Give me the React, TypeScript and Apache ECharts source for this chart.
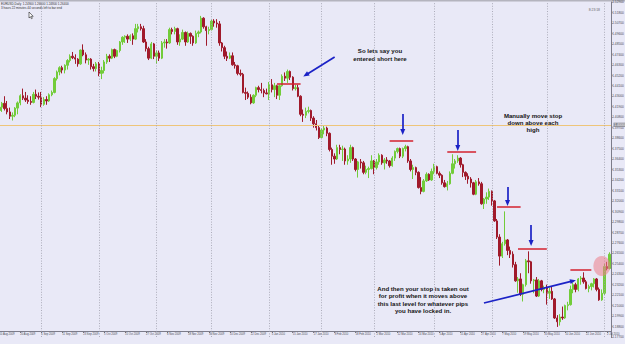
import React, { useEffect, useRef } from 'react';
import * as echarts from 'echarts';

// [day, open, high, low, close]
type Bar = [number, number, number, number, number];

const AUG_2009: Bar[] = [
  [10, 1.4150, 1.4215, 1.4120, 1.4185], [11, 1.4185, 1.4240, 1.4135, 1.4225], [12, 1.4225, 1.4300, 1.4150, 1.4170],
  [13, 1.4170, 1.4250, 1.4110, 1.4135], [14, 1.4135, 1.4180, 1.4060, 1.4090], [17, 1.4090, 1.4130, 1.4045, 1.4100],
  [18, 1.4100, 1.4185, 1.4080, 1.4175], [19, 1.4175, 1.4245, 1.4110, 1.4230], [20, 1.4230, 1.4320, 1.4205, 1.4305],
  [21, 1.4305, 1.4380, 1.4260, 1.4280], [24, 1.4280, 1.4345, 1.4240, 1.4260], [25, 1.4260, 1.4310, 1.4220, 1.4245],
  [26, 1.4245, 1.4300, 1.4210, 1.4235], [27, 1.4235, 1.4345, 1.4225, 1.4320], [28, 1.4320, 1.4370, 1.4270, 1.4300],
  [31, 1.4300, 1.4340, 1.4265, 1.4290],
];
const SEP_2009: Bar[] = [
  [1, 1.4290, 1.4345, 1.4185, 1.4215], [2, 1.4215, 1.4290, 1.4200, 1.4265], [3, 1.4265, 1.4300, 1.4210, 1.4250],
  [4, 1.4250, 1.4330, 1.4240, 1.4315], [7, 1.4315, 1.4360, 1.4300, 1.4340], [8, 1.4340, 1.4500, 1.4330, 1.4485],
  [9, 1.4485, 1.4570, 1.4465, 1.4555], [10, 1.4555, 1.4615, 1.4520, 1.4600], [11, 1.4600, 1.4620, 1.4540, 1.4575],
  [14, 1.4575, 1.4635, 1.4540, 1.4625], [15, 1.4625, 1.4690, 1.4580, 1.4675], [16, 1.4675, 1.4740, 1.4655, 1.4720],
  [17, 1.4720, 1.4765, 1.4690, 1.4705], [18, 1.4705, 1.4740, 1.4640, 1.4690], [21, 1.4690, 1.4700, 1.4610, 1.4640],
  [22, 1.4640, 1.4790, 1.4630, 1.4785], [23, 1.4785, 1.4845, 1.4720, 1.4735], [24, 1.4735, 1.4760, 1.4645, 1.4680],
  [25, 1.4680, 1.4700, 1.4630, 1.4690], [28, 1.4690, 1.4700, 1.4580, 1.4610], [29, 1.4610, 1.4640, 1.4560, 1.4590],
  [30, 1.4590, 1.4660, 1.4560, 1.4640],
];
const OCT_2009: Bar[] = [
  [1, 1.4640, 1.4660, 1.4510, 1.4540], [2, 1.4540, 1.4610, 1.4480, 1.4570], [5, 1.4570, 1.4680, 1.4540, 1.4660],
  [6, 1.4660, 1.4745, 1.4640, 1.4720], [7, 1.4720, 1.4740, 1.4660, 1.4700], [8, 1.4700, 1.4800, 1.4690, 1.4790],
  [9, 1.4790, 1.4800, 1.4700, 1.4720], [12, 1.4720, 1.4790, 1.4710, 1.4780], [13, 1.4780, 1.4880, 1.4760, 1.4870],
  [14, 1.4870, 1.4930, 1.4840, 1.4920], [15, 1.4920, 1.4940, 1.4860, 1.4930], [16, 1.4930, 1.4950, 1.4860, 1.4900],
  [19, 1.4900, 1.4950, 1.4880, 1.4935], [20, 1.4935, 1.4960, 1.4840, 1.4900], [21, 1.4900, 1.5060, 1.4890, 1.5010],
  [22, 1.5010, 1.5060, 1.4970, 1.5030], [23, 1.5030, 1.5060, 1.4990, 1.5010], [26, 1.5010, 1.5040, 1.4860, 1.4870],
  [27, 1.4870, 1.4900, 1.4770, 1.4800], [28, 1.4800, 1.4820, 1.4680, 1.4700], [29, 1.4700, 1.4870, 1.4690, 1.4850],
  [30, 1.4850, 1.4860, 1.4690, 1.4720],
];
const NOV_2009: Bar[] = [
  [2, 1.4720, 1.4780, 1.4640, 1.4755], [3, 1.4755, 1.4780, 1.4670, 1.4700], [4, 1.4700, 1.4880, 1.4690, 1.4860],
  [5, 1.4860, 1.4900, 1.4810, 1.4870], [6, 1.4870, 1.4900, 1.4800, 1.4860], [9, 1.4860, 1.5020, 1.4850, 1.5000],
  [10, 1.5000, 1.5020, 1.4950, 1.4980], [11, 1.4980, 1.5030, 1.4950, 1.5010], [12, 1.5010, 1.5020, 1.4840, 1.4870],
  [13, 1.4870, 1.4950, 1.4830, 1.4900], [16, 1.4900, 1.5000, 1.4890, 1.4970], [17, 1.4970, 1.4980, 1.4830, 1.4870],
  [18, 1.4870, 1.4980, 1.4860, 1.4960], [19, 1.4960, 1.4970, 1.4850, 1.4930], [20, 1.4930, 1.4940, 1.4830, 1.4860],
  [23, 1.4860, 1.4990, 1.4850, 1.4960], [24, 1.4960, 1.4990, 1.4920, 1.4975], [25, 1.4975, 1.5144, 1.4960, 1.5120],
  [26, 1.5120, 1.5130, 1.5010, 1.5030], [27, 1.5030, 1.5040, 1.4830, 1.4990], [30, 1.4990, 1.5030, 1.4950, 1.5000],
];
const DEC_2009: Bar[] = [
  [1, 1.5000, 1.5105, 1.4990, 1.5090], [2, 1.5090, 1.5110, 1.5030, 1.5070], [3, 1.5070, 1.5110, 1.5020, 1.5060],
  [4, 1.5060, 1.5090, 1.4830, 1.4860], [7, 1.4860, 1.4870, 1.4770, 1.4810], [8, 1.4810, 1.4830, 1.4690, 1.4720],
  [9, 1.4720, 1.4770, 1.4670, 1.4700], [10, 1.4700, 1.4760, 1.4690, 1.4725], [11, 1.4725, 1.4760, 1.4620, 1.4630],
  [14, 1.4630, 1.4660, 1.4590, 1.4620], [15, 1.4620, 1.4630, 1.4520, 1.4540], [16, 1.4540, 1.4580, 1.4510, 1.4530],
  [17, 1.4530, 1.4545, 1.4330, 1.4340], [18, 1.4340, 1.4390, 1.4260, 1.4330], [21, 1.4330, 1.4350, 1.4270, 1.4290],
  [22, 1.4290, 1.4320, 1.4215, 1.4230], [23, 1.4230, 1.4320, 1.4220, 1.4310], [24, 1.4310, 1.4400, 1.4290, 1.4390],
  [28, 1.4390, 1.4410, 1.4340, 1.4370], [29, 1.4370, 1.4440, 1.4330, 1.4360], [30, 1.4360, 1.4380, 1.4290, 1.4335],
  [31, 1.4335, 1.4380, 1.4320, 1.4325],
];
const JAN_2010: Bar[] = [
  [4, 1.4325, 1.4450, 1.4260, 1.4420], [5, 1.4420, 1.4480, 1.4340, 1.4370], [6, 1.4370, 1.4440, 1.4290, 1.4410],
  [7, 1.4410, 1.4420, 1.4270, 1.4310], [8, 1.4310, 1.4420, 1.4260, 1.4410], [11, 1.4410, 1.4530, 1.4400, 1.4510],
  [12, 1.4510, 1.4550, 1.4460, 1.4490], [13, 1.4490, 1.4580, 1.4440, 1.4560], [14, 1.4560, 1.4570, 1.4470, 1.4500],
  [15, 1.4500, 1.4510, 1.4360, 1.4380], [18, 1.4380, 1.4420, 1.4360, 1.4390], [19, 1.4390, 1.4420, 1.4290, 1.4300],
  [20, 1.4300, 1.4310, 1.4090, 1.4110], [21, 1.4110, 1.4160, 1.4030, 1.4100], [22, 1.4100, 1.4180, 1.4070, 1.4140],
  [25, 1.4140, 1.4190, 1.4120, 1.4150], [26, 1.4150, 1.4160, 1.4040, 1.4070], [27, 1.4070, 1.4090, 1.3970, 1.4010],
  [28, 1.4010, 1.4050, 1.3940, 1.3970], [29, 1.3970, 1.3990, 1.3850, 1.3865],
];
const FEB_2010: Bar[] = [
  [1, 1.3865, 1.3960, 1.3860, 1.3945], [2, 1.3945, 1.3990, 1.3900, 1.3965], [3, 1.3965, 1.3980, 1.3880, 1.3910],
  [4, 1.3910, 1.3920, 1.3720, 1.3740], [5, 1.3740, 1.3760, 1.3580, 1.3670], [8, 1.3670, 1.3700, 1.3590, 1.3640],
  [9, 1.3640, 1.3790, 1.3630, 1.3760], [10, 1.3760, 1.3790, 1.3690, 1.3740], [11, 1.3740, 1.3780, 1.3620, 1.3745],
  [12, 1.3745, 1.3760, 1.3580, 1.3620], [15, 1.3620, 1.3680, 1.3580, 1.3640], [16, 1.3640, 1.3790, 1.3600, 1.3760],
  [17, 1.3760, 1.3770, 1.3620, 1.3640], [18, 1.3640, 1.3650, 1.3510, 1.3530], [19, 1.3530, 1.3620, 1.3445, 1.3610],
  [22, 1.3610, 1.3640, 1.3540, 1.3600], [23, 1.3600, 1.3620, 1.3480, 1.3500], [24, 1.3500, 1.3570, 1.3480, 1.3530],
  [25, 1.3530, 1.3560, 1.3440, 1.3540], [26, 1.3540, 1.3680, 1.3530, 1.3620],
];
const MAR_2010: Bar[] = [
  [1, 1.3620, 1.3630, 1.3480, 1.3550], [2, 1.3550, 1.3640, 1.3530, 1.3610], [3, 1.3610, 1.3700, 1.3580, 1.3680],
  [4, 1.3680, 1.3690, 1.3580, 1.3600], [5, 1.3600, 1.3650, 1.3530, 1.3630], [8, 1.3630, 1.3660, 1.3590, 1.3620],
  [9, 1.3620, 1.3630, 1.3550, 1.3570], [10, 1.3570, 1.3670, 1.3560, 1.3650], [11, 1.3650, 1.3730, 1.3620, 1.3720],
  [12, 1.3720, 1.3760, 1.3700, 1.3750], [15, 1.3750, 1.3760, 1.3650, 1.3670], [16, 1.3670, 1.3760, 1.3650, 1.3750],
  [17, 1.3750, 1.3790, 1.3720, 1.3770], [18, 1.3770, 1.3780, 1.3600, 1.3620], [19, 1.3620, 1.3640, 1.3510, 1.3530],
  [22, 1.3530, 1.3580, 1.3430, 1.3550], [23, 1.3550, 1.3560, 1.3470, 1.3500], [24, 1.3500, 1.3510, 1.3330, 1.3340],
  [25, 1.3340, 1.3450, 1.3270, 1.3300], [26, 1.3300, 1.3430, 1.3290, 1.3410], [29, 1.3410, 1.3500, 1.3400, 1.3480],
  [30, 1.3480, 1.3490, 1.3410, 1.3420], [31, 1.3420, 1.3540, 1.3410, 1.3510],
];
const APR_2010: Bar[] = [
  [1, 1.3510, 1.3590, 1.3480, 1.3560], [2, 1.3560, 1.3570, 1.3480, 1.3490], [5, 1.3490, 1.3510, 1.3440, 1.3470],
  [6, 1.3470, 1.3480, 1.3370, 1.3390], [7, 1.3390, 1.3420, 1.3340, 1.3350], [8, 1.3350, 1.3410, 1.3310, 1.3380],
  [9, 1.3380, 1.3510, 1.3370, 1.3490], [12, 1.3490, 1.3690, 1.3480, 1.3590], [13, 1.3590, 1.3640, 1.3540, 1.3620],
  [14, 1.3620, 1.3680, 1.3600, 1.3650], [15, 1.3650, 1.3660, 1.3550, 1.3580], [16, 1.3580, 1.3590, 1.3450, 1.3500],
  [19, 1.3500, 1.3510, 1.3420, 1.3460], [20, 1.3460, 1.3490, 1.3380, 1.3430], [21, 1.3430, 1.3450, 1.3340, 1.3390],
  [22, 1.3390, 1.3400, 1.3260, 1.3270], [23, 1.3270, 1.3420, 1.3260, 1.3400], [26, 1.3400, 1.3440, 1.3360, 1.3380],
  [27, 1.3380, 1.3400, 1.3160, 1.3170], [28, 1.3170, 1.3230, 1.3115, 1.3220], [29, 1.3220, 1.3290, 1.3170, 1.3240],
  [30, 1.3240, 1.3330, 1.3210, 1.3300],
];
const MAY_2010: Bar[] = [
  [3, 1.3300, 1.3310, 1.3150, 1.3200], [4, 1.3200, 1.3210, 1.2980, 1.2990], [5, 1.2990, 1.3010, 1.2800, 1.2820],
  [6, 1.2820, 1.2850, 1.2520, 1.2620], [7, 1.2620, 1.2770, 1.2600, 1.2750], [10, 1.2750, 1.3090, 1.2730, 1.2790],
  [11, 1.2790, 1.2800, 1.2630, 1.2680], [12, 1.2680, 1.2720, 1.2600, 1.2640], [13, 1.2640, 1.2670, 1.2500, 1.2530],
  [14, 1.2530, 1.2560, 1.2350, 1.2360], [17, 1.2360, 1.2400, 1.2235, 1.2380], [18, 1.2380, 1.2440, 1.2200, 1.2220],
  [19, 1.2220, 1.2330, 1.2143, 1.2320], [20, 1.2320, 1.2590, 1.2300, 1.2570], [21, 1.2570, 1.2670, 1.2440, 1.2560],
  [24, 1.2560, 1.2570, 1.2330, 1.2360], [25, 1.2360, 1.2380, 1.2230, 1.2370], [26, 1.2370, 1.2400, 1.2190, 1.2200],
  [27, 1.2200, 1.2380, 1.2190, 1.2360], [28, 1.2360, 1.2370, 1.2250, 1.2270], [31, 1.2270, 1.2310, 1.2230, 1.2290],
];
const JUN_2010: Bar[] = [
  [1, 1.2290, 1.2320, 1.2110, 1.2230], [2, 1.2230, 1.2290, 1.2170, 1.2250], [3, 1.2250, 1.2300, 1.2160, 1.2170],
  [4, 1.2170, 1.2180, 1.1960, 1.1970], [7, 1.1970, 1.2000, 1.1876, 1.1930], [8, 1.1930, 1.2010, 1.1890, 1.1980],
  [9, 1.1980, 1.2090, 1.1950, 1.1970], [10, 1.1970, 1.2110, 1.1960, 1.2100], [11, 1.2100, 1.2140, 1.2050, 1.2110],
  [14, 1.2110, 1.2310, 1.2100, 1.2270], [15, 1.2270, 1.2340, 1.2230, 1.2320], [16, 1.2320, 1.2340, 1.2240, 1.2270],
  [17, 1.2270, 1.2390, 1.2250, 1.2380], [18, 1.2380, 1.2410, 1.2320, 1.2390], [21, 1.2390, 1.2450, 1.2330, 1.2350],
  [22, 1.2350, 1.2370, 1.2270, 1.2280], [23, 1.2280, 1.2320, 1.2240, 1.2300], [24, 1.2300, 1.2340, 1.2260, 1.2330],
  [25, 1.2330, 1.2390, 1.2290, 1.2380], [28, 1.2380, 1.2390, 1.2250, 1.2270], [29, 1.2270, 1.2290, 1.2150, 1.2160],
  [30, 1.2160, 1.2270, 1.2150, 1.2230],
];
const JUL_2010: Bar[] = [
  [1, 1.2230, 1.2540, 1.2210, 1.2510], [2, 1.2510, 1.2560, 1.2470, 1.2490], [5, 1.2490, 1.2660, 1.2480, 1.2640],
];

const MONTHS = [
  { label: 'Aug', year: 2009, bars: AUG_2009 }, { label: 'Sep', year: 2009, bars: SEP_2009 },
  { label: 'Oct', year: 2009, bars: OCT_2009 }, { label: 'Nov', year: 2009, bars: NOV_2009 },
  { label: 'Dec', year: 2009, bars: DEC_2009 }, { label: 'Jan', year: 2010, bars: JAN_2010 },
  { label: 'Feb', year: 2010, bars: FEB_2010 }, { label: 'Mar', year: 2010, bars: MAR_2010 },
  { label: 'Apr', year: 2010, bars: APR_2010 }, { label: 'May', year: 2010, bars: MAY_2010 },
  { label: 'Jun', year: 2010, bars: JUN_2010 }, { label: 'Jul', year: 2010, bars: JUL_2010 },
];

// price scale (right axis)
const PRICE_MIN = 1.177;
const PRICE_MAX = 1.529;
const PRICE_STEP = 0.011;
const DATE_LABEL_EVERY = 8;

// annotations: stop levels, arrows, round-number line, exit marker
const STOP_LEVELS = [
  { from: 106, to: 115, price: 1.4428 },
  { from: 149, to: 158, price: 1.3829 },
  { from: 171, to: 182, price: 1.3714 },
  { from: 190, to: 199, price: 1.3136 },
  { from: 198, to: 209, price: 1.2695 },
  { from: 218, to: 226, price: 1.2474 },
];
const ARROWS = [
  { from: [128, 1.4712], to: [117, 1.4523] },
  { from: [154, 1.4113], to: [154, 1.3924] },
  { from: [175, 1.3945], to: [175, 1.3756] },
  { from: [194, 1.3346], to: [194, 1.3178] },
  { from: [203, 1.2947], to: [203, 1.2758] },
  { from: [185, 1.2127], to: [219, 1.2359] },
];
const LEVEL_LINE = 1.4;
const EXIT_POINT = { idx: 230, price: 1.2516 };

const NOTE_ENTRY = ['So lets say you', 'entered short here'];
const NOTE_TRAIL = ['Manually move stop', 'down above each', 'high'];
const NOTE_EXIT = ['And then your stop is taken out', 'for profit when it moves above', 'this last level for whatever pips', 'you have locked in.'];
const HEADER = ['EURUSD,Daily  1.24900 1.26600 1.24800 1.26400', '3 hours 22 minutes 44 seconds left to bar end'];
const TIMER = '8:23:18';

const CATEGORIES: string[] = [];
const OHLC: number[][] = [];
const MONTH_STARTS: number[] = [];
MONTHS.forEach((m, mi) => {
  if (mi > 0) MONTH_STARTS.push(CATEGORIES.length);
  m.bars.forEach((b) => {
    CATEGORIES.push(`${b[0]} ${m.label} ${m.year}`);
    OHLC.push([b[1], b[4], b[3], b[2]]);
  });
});

const FONT = '"Liberation Sans", Arial, sans-serif';
const UP = '#72cc3a';
const DOWN = '#a01a2b';

function noteTexts(lines: string[], cx: number, y0: number, lh: number) {
  return lines.map((t, i) => ({
    type: 'text',
    x: cx,
    y: y0 + i * lh,
    silent: true,
    style: { text: t, fill: '#141414', font: `bold 6.1px ${FONT}`, textAlign: 'center', textVerticalAlign: 'middle' },
  }));
}

export default function App() {
  const ref = useRef<HTMLDivElement>(null);
  useEffect(() => {
    const chart = echarts.init(ref.current!, null, { renderer: 'svg' });
    const markLines: any[] = [];
    MONTH_STARTS.forEach((i) => {
      markLines.push([
        { coord: [CATEGORIES[i], PRICE_MIN], lineStyle: { color: '#9d9dab', width: 0.8, type: [1, 1.6] } },
        { coord: [CATEGORIES[i], PRICE_MAX] },
      ]);
    });
    STOP_LEVELS.forEach((s) => {
      markLines.push([
        { coord: [CATEGORIES[s.from], s.price], lineStyle: { color: '#d3202e', width: 1.5, type: 'solid' } },
        { coord: [CATEGORIES[s.to], s.price] },
      ]);
    });
    ARROWS.forEach((a) => {
      markLines.push([
        { coord: [CATEGORIES[a.from[0]], a.from[1]], symbol: 'none', lineStyle: { color: '#1b22c6', width: 1.7, type: 'solid' } },
        { coord: [CATEGORIES[a.to[0]], a.to[1]], symbol: 'triangle', symbolSize: [5, 6] },
      ]);
    });

    chart.setOption({
      animation: false,
      backgroundColor: '#e9e9f7',
      grid: { left: -2, right: 14, top: 2, bottom: 7, containLabel: false, outerBoundsMode: 'none' },
      xAxis: {
        type: 'category',
        data: CATEGORIES,
        boundaryGap: true,
        offset: -6,
        axisLine: { show: true, lineStyle: { color: '#7c7c8a', width: 1 } },
        axisTick: { show: true, alignWithLabel: true, length: 2, interval: (i: number) => i % DATE_LABEL_EVERY === 0, lineStyle: { color: '#7c7c8a' } },
        axisLabel: {
          interval: (i: number) => i % DATE_LABEL_EVERY === 0,
          fontSize: 2.7, color: '#4a4a55', align: 'left', margin: 2.2, fontFamily: FONT,
        },
        splitLine: { show: false },
      },
      yAxis: {
        type: 'value',
        position: 'right',
        min: PRICE_MIN,
        max: PRICE_MAX,
        interval: PRICE_STEP,
        scale: true,
        axisLine: { show: true, lineStyle: { color: '#7c7c8a', width: 1 } },
        axisTick: { show: true, length: 1.5, lineStyle: { color: '#7c7c8a' } },
        axisLabel: { fontSize: 3.2, color: '#4a4a55', margin: 1.2, fontFamily: FONT, formatter: (v: number) => v.toFixed(5) },
        splitLine: { show: false },
      },
      series: [
        {
          type: 'line',
          data: [],
          silent: true,
          markLine: {
            silent: true,
            animation: false,
            symbol: ['none', 'none'],
            lineStyle: { color: '#eec57a', width: 1.2, type: 'solid', opacity: 1 },
            label: {
              show: true, position: 'end', distance: 2.5, formatter: () => LEVEL_LINE.toFixed(5),
              fontSize: 3.2, color: '#ffffff', backgroundColor: '#8c8c94', padding: [0.6, 0.8], fontFamily: FONT,
            },
            emphasis: { disabled: true },
            data: [{ yAxis: LEVEL_LINE }],
          },
        },
        {
          type: 'candlestick',
          data: OHLC,
          barWidth: 1.9,
          itemStyle: { color: UP, color0: DOWN, borderColor: UP, borderColor0: DOWN, borderWidth: 1 },
          markLine: {
            silent: true,
            animation: false,
            symbol: ['none', 'none'],
            lineStyle: { type: 'solid' },
            label: { show: false },
            emphasis: { disabled: true },
            data: markLines,
          },
          markPoint: {
            silent: true,
            animation: false,
            label: { show: false },
            data: [
              {
                coord: [CATEGORIES[EXIT_POINT.idx], EXIT_POINT.price],
                symbol: 'circle',
                symbolSize: [17, 20],
                itemStyle: { color: 'rgba(236,126,138,0.55)' },
              },
            ],
          },
        },
      ],
      graphic: [
        { type: 'rect', shape: { x: 0, y: 0, width: 625, height: 1.5 }, style: { fill: '#b4b4be' }, silent: true },
        { type: 'text', x: 1, y: 4, silent: true, style: { text: HEADER[0], fill: '#333', font: `3px ${FONT}`, textVerticalAlign: 'middle' } },
        { type: 'text', x: 1, y: 7.5, silent: true, style: { text: HEADER[1], fill: '#333', font: `3px ${FONT}`, textVerticalAlign: 'middle' } },
        { type: 'text', x: 600, y: 10, silent: true, style: { text: TIMER, fill: '#666', font: `3.4px ${FONT}`, textAlign: 'right', textVerticalAlign: 'middle' } },
        {
          type: 'polygon', silent: true,
          shape: { points: [[29, 12], [29, 18], [30.4, 16.7], [31.4, 18.7], [32.3, 18.3], [31.4, 16.3], [33.2, 16.3]] },
          style: { fill: '#ffffff', stroke: '#222', lineWidth: 0.6 },
        },
        ...noteTexts(NOTE_ENTRY, 380, 50, 8),
        ...noteTexts(NOTE_TRAIL, 533, 115, 7.2),
        ...noteTexts(NOTE_EXIT, 423, 288.3, 7.5),
      ],
    });
    return () => chart.dispose();
  }, []);
  return <div ref={ref} style={{ position: 'fixed', left: 0, top: 0, width: 625, height: 344 }} />;
}
